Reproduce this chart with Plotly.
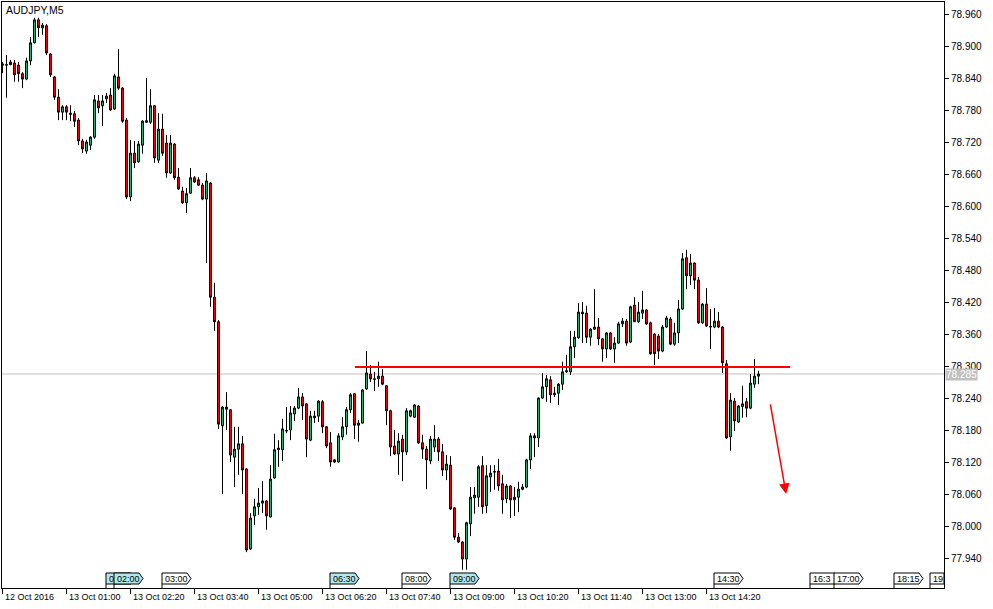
import plotly.graph_objects as go

# ---------------- data (AUDJPY, M5) ----------------
opens = [78.864, 78.864, 78.870, 78.868, 78.864, 78.848, 78.838, 78.872, 78.906, 78.949,
         78.934, 78.938, 78.885, 78.842, 78.804, 78.776, 78.786, 78.774, 78.773, 78.761,
         78.722, 78.703, 78.714, 78.729, 78.797, 78.788, 78.801, 78.808, 78.782, 78.842,
         78.821, 78.761, 78.617, 78.699, 78.683, 78.714, 78.760, 78.757, 78.788, 78.686,
         78.744, 78.718, 78.662, 78.716, 78.654, 78.628, 78.606, 78.624, 78.653, 78.649,
         78.639, 78.613, 78.643, 78.429, 78.383, 78.188, 78.223, 78.218, 78.129, 78.144,
         78.154, 78.107, 77.957, 78.019, 78.036, 78.043, 78.047, 78.017, 78.090, 78.143,
         78.143, 78.178, 78.180, 78.210, 78.221, 78.242, 78.229, 78.161, 78.203, 78.206,
         78.233, 78.186, 78.156, 78.124, 78.120, 78.167, 78.186, 78.218, 78.248, 78.189,
         78.193, 78.257, 78.285, 78.276, 78.276, 78.281, 78.263, 78.216, 78.150, 78.135,
         78.163, 78.139, 78.206, 78.204, 78.225, 78.156, 78.144, 78.122, 78.148, 78.163,
         78.139, 78.105, 78.114, 78.034, 77.979, 77.970, 77.938, 78.004, 78.053, 78.054,
         78.113, 78.038, 78.092, 78.101, 78.103, 78.079, 78.051, 78.075, 78.049, 78.054,
         78.069, 78.073, 78.124, 78.169, 78.165, 78.240, 78.261, 78.274, 78.246, 78.249,
         78.266, 78.289, 78.289, 78.336, 78.353, 78.401, 78.399, 78.354, 78.369, 78.373,
         78.351, 78.332, 78.362, 78.332, 78.343, 78.379, 78.384, 78.345, 78.414, 78.383,
         78.399, 78.405, 78.381, 78.360, 78.356, 78.328, 78.373, 78.388, 78.341, 78.362,
         78.407, 78.503, 78.469, 78.493, 78.461, 78.381, 78.416, 78.373, 78.373, 78.384,
         78.373, 78.304, 78.167, 78.234, 78.195, 78.224, 78.233, 78.221, 78.266, 78.281]
highs = [78.870, 78.883, 78.874, 78.874, 78.870, 78.851, 78.878, 78.917, 78.953, 78.953,
         78.943, 78.941, 78.887, 78.844, 78.819, 78.789, 78.789, 78.789, 78.778, 78.765,
         78.726, 78.724, 78.731, 78.808, 78.808, 78.808, 78.812, 78.821, 78.848, 78.894,
         78.823, 78.765, 78.724, 78.722, 78.722, 78.761, 78.840, 78.819, 78.789, 78.774,
         78.773, 78.733, 78.733, 78.718, 78.671, 78.636, 78.634, 78.671, 78.656, 78.654,
         78.643, 78.662, 78.645, 78.456, 78.386, 78.225, 78.251, 78.219, 78.186, 78.186,
         78.169, 78.108, 78.024, 78.051, 78.071, 78.084, 78.049, 78.114, 78.173, 78.161,
         78.201, 78.223, 78.225, 78.225, 78.259, 78.249, 78.230, 78.216, 78.216, 78.236,
         78.236, 78.187, 78.176, 78.125, 78.174, 78.204, 78.223, 78.249, 78.249, 78.199,
         78.257, 78.328, 78.302, 78.289, 78.308, 78.294, 78.264, 78.218, 78.180, 78.174,
         78.171, 78.221, 78.218, 78.229, 78.227, 78.171, 78.150, 78.169, 78.189, 78.167,
         78.154, 78.133, 78.131, 78.035, 77.987, 77.972, 78.008, 78.073, 78.073, 78.114,
         78.131, 78.114, 78.114, 78.114, 78.126, 78.096, 78.079, 78.077, 78.073, 78.083,
         78.079, 78.126, 78.174, 78.174, 78.241, 78.287, 78.283, 78.281, 78.261, 78.268,
         78.308, 78.321, 78.366, 78.366, 78.418, 78.420, 78.413, 78.371, 78.444, 78.390,
         78.352, 78.364, 78.364, 78.354, 78.383, 78.390, 78.388, 78.413, 78.429, 78.420,
         78.441, 78.407, 78.383, 78.361, 78.360, 78.377, 78.394, 78.392, 78.381, 78.424,
         78.512, 78.518, 78.510, 78.494, 78.467, 78.418, 78.446, 78.407, 78.409, 78.401,
         78.375, 78.311, 78.249, 78.240, 78.227, 78.263, 78.240, 78.285, 78.313, 78.291]
lows = [78.849, 78.803, 78.864, 78.833, 78.833, 78.821, 78.836, 78.864, 78.905, 78.917,
        78.921, 78.883, 78.842, 78.799, 78.761, 78.761, 78.761, 78.759, 78.748, 78.714,
        78.699, 78.698, 78.705, 78.726, 78.774, 78.750, 78.793, 78.778, 78.780, 78.818,
        78.756, 78.613, 78.609, 78.671, 78.681, 78.698, 78.756, 78.754, 78.681, 78.681,
        78.694, 78.653, 78.660, 78.649, 78.630, 78.604, 78.587, 78.623, 78.643, 78.638,
        78.611, 78.493, 78.411, 78.366, 78.182, 78.060, 78.180, 78.120, 78.073, 78.096,
        78.060, 77.951, 77.955, 78.002, 78.021, 78.024, 77.993, 78.016, 78.089, 78.111,
        78.122, 78.174, 78.161, 78.197, 78.219, 78.199, 78.129, 78.159, 78.193, 78.195,
        78.174, 78.146, 78.111, 78.118, 78.119, 78.161, 78.171, 78.212, 78.163, 78.158,
        78.192, 78.255, 78.270, 78.253, 78.261, 78.264, 78.189, 78.131, 78.133, 78.096,
        78.084, 78.133, 78.204, 78.203, 78.154, 78.126, 78.069, 78.116, 78.139, 78.122,
        78.094, 78.086, 78.030, 77.974, 77.968, 77.918, 77.918, 77.981, 78.023, 78.036,
        78.023, 78.024, 78.064, 78.068, 78.066, 78.023, 78.043, 78.015, 78.019, 78.026,
        78.067, 78.071, 78.107, 78.129, 78.148, 78.238, 78.233, 78.231, 78.242, 78.227,
        78.255, 78.287, 78.283, 78.315, 78.351, 78.343, 78.343, 78.338, 78.368, 78.339,
        78.308, 78.315, 78.330, 78.306, 78.341, 78.373, 78.338, 78.343, 78.383, 78.381,
        78.388, 78.377, 78.321, 78.302, 78.313, 78.326, 78.371, 78.339, 78.338, 78.343,
        78.405, 78.444, 78.452, 78.444, 78.379, 78.379, 78.373, 78.332, 78.371, 78.371,
        78.287, 78.163, 78.141, 78.178, 78.193, 78.203, 78.204, 78.219, 78.259, 78.266]
closes = [78.866, 78.865, 78.865, 78.846, 78.848, 78.838, 78.872, 78.906, 78.949, 78.934,
          78.939, 78.887, 78.846, 78.804, 78.776, 78.786, 78.776, 78.772, 78.759, 78.722,
          78.707, 78.720, 78.729, 78.799, 78.784, 78.797, 78.806, 78.780, 78.844, 78.821,
          78.759, 78.617, 78.699, 78.681, 78.716, 78.759, 78.757, 78.788, 78.690, 78.744,
          78.699, 78.662, 78.718, 78.653, 78.632, 78.606, 78.623, 78.653, 78.645, 78.639,
          78.613, 78.647, 78.429, 78.383, 78.191, 78.223, 78.219, 78.133, 78.144, 78.154,
          78.105, 77.955, 78.015, 78.036, 78.043, 78.047, 78.019, 78.088, 78.143, 78.146,
          78.182, 78.179, 78.212, 78.221, 78.242, 78.225, 78.163, 78.206, 78.206, 78.234,
          78.186, 78.150, 78.120, 78.120, 78.169, 78.186, 78.218, 78.246, 78.189, 78.193,
          78.255, 78.287, 78.276, 78.275, 78.281, 78.266, 78.216, 78.148, 78.135, 78.159,
          78.139, 78.216, 78.216, 78.227, 78.156, 78.144, 78.124, 78.163, 78.163, 78.139,
          78.105, 78.116, 78.032, 77.979, 77.970, 77.938, 78.006, 78.054, 78.058, 78.111,
          78.036, 78.094, 78.099, 78.102, 78.075, 78.049, 78.075, 78.049, 78.054, 78.069,
          78.073, 78.124, 78.169, 78.165, 78.240, 78.261, 78.276, 78.246, 78.249, 78.266,
          78.289, 78.291, 78.336, 78.354, 78.401, 78.398, 78.354, 78.369, 78.373, 78.351,
          78.332, 78.362, 78.332, 78.343, 78.379, 78.384, 78.343, 78.411, 78.383, 78.401,
          78.405, 78.379, 78.323, 78.323, 78.328, 78.373, 78.390, 78.341, 78.362, 78.407,
          78.501, 78.469, 78.493, 78.461, 78.381, 78.416, 78.375, 78.374, 78.384, 78.373,
          78.306, 78.165, 78.236, 78.197, 78.225, 78.229, 78.221, 78.268, 78.281, 78.285]

time_tick_bars = [0, 16, 32, 48, 64, 80, 96, 112, 128, 144, 160, 176]
time_tick_labels = ["12 Oct 2016", "13 Oct 01:00", "13 Oct 02:20", "13 Oct 03:40",
                    "13 Oct 05:00", "13 Oct 06:20", "13 Oct 07:40", "13 Oct 09:00",
                    "13 Oct 10:20", "13 Oct 11:40", "13 Oct 13:00", "13 Oct 14:20"]

price_ticks = [77.94, 78.00, 78.06, 78.12, 78.18, 78.24, 78.30, 78.36, 78.42,
               78.48, 78.54, 78.60, 78.66, 78.72, 78.78, 78.84, 78.90, 78.96]

event_bars = [26, 28, 40, 82, 100, 112, 178, 202, 208, 223, 232]
event_labels = ["0", "02:00", "03:00", "06:30", "08:00", "09:00", "14:30", "16:3", "17:00", "18:15", "19:"]
event_high = [True, True, False, True, False, True, False, False, False, False, False]

current_price = 78.285
level_price = 78.298
level_bars = [88.1, 196.9]
arrow_from = [191.9, 78.231]
arrow_to = [195.9, 78.060]

# ---------------- figure ----------------
FONT = "Liberation Sans"
GREEN = "#36b368"
RED = "#ff0000"
CYAN = "#b0e8ee"
bars = list(range(len(opens)))
X0, X1 = -0.125, 235.375
Y0, Y1 = 77.88375, 78.9825

fig = go.Figure()
fig.add_trace(go.Candlestick(
    x=bars, open=opens, high=highs, low=lows, close=closes,
    increasing=dict(line=dict(color="black", width=1), fillcolor=GREEN),
    decreasing=dict(line=dict(color="black", width=1), fillcolor=RED),
    whiskerwidth=0, hoverinfo="skip", showlegend=False))

shapes = []
# current price line
shapes.append(dict(type="line", xref="paper", x0=0, x1=1, yref="y",
                   y0=current_price, y1=current_price,
                   line=dict(color="#c0c0c0", width=1), layer="below"))
# red horizontal level
shapes.append(dict(type="line", xref="x", x0=level_bars[0], x1=level_bars[1], yref="y",
                   y0=level_price, y1=level_price, line=dict(color=RED, width=2)))

annotations = []
# event boxes at the bottom
yb, yt = 4 / 586, 15 / 586
ym = (yb + yt) / 2
for b, lab, hi in zip(event_bars, event_labels, event_high):
    x0 = b - 0.125
    x1 = x0 + 6.25
    xt = x0 + 7.25
    if xt <= X1:
        path = (f"M {x0},0 L {x0},{yb} L {x0},{yt} L {x1},{yt} L {xt},{ym} "
                f"L {x1},{yb} L {x0},{yb}")
    else:
        xe = X1
        path = f"M {x0},0 L {x0},{yb} L {x0},{yt} L {xe},{yt} L {xe},{yb} L {x0},{yb}"
    shapes.append(dict(type="path", xref="x", yref="paper", path=path,
                       fillcolor=CYAN if hi else "white",
                       line=dict(color="black", width=1)))
    annotations.append(dict(x=x0, xref="x", xanchor="left", xshift=1,
                            y=ym, yref="paper", yanchor="middle",
                            text=lab, showarrow=False,
                            font=dict(family=FONT, size=9, color="black")))

# bottom time labels (left aligned after tick)
for b, lab in zip(time_tick_bars, time_tick_labels):
    annotations.append(dict(x=b, xref="x", xanchor="left", xshift=0,
                            y=0, yref="paper", yanchor="top", yshift=-2,
                            text=lab, showarrow=False,
                            font=dict(family=FONT, size=9, color="black")))

# title
annotations.append(dict(x=0, xref="paper", xanchor="left", xshift=2,
                        y=1, yref="paper", yanchor="top", yshift=0,
                        text="AUDJPY,M5", showarrow=False,
                        font=dict(family=FONT, size=10.5, color="black")))

# current price tag
annotations.append(dict(x=1, xref="paper", xanchor="left", xshift=1,
                        y=current_price, yref="y", yanchor="middle",
                        text=f"{current_price:.3f}", showarrow=False,
                        bgcolor="#c0c0c0", borderpad=0,
                        font=dict(family=FONT, size=10, color="white")))

# red arrow
annotations.append(dict(x=arrow_to[0], y=arrow_to[1], xref="x", yref="y",
                        ax=arrow_from[0], ay=arrow_from[1], axref="x", ayref="y",
                        text="", showarrow=True, arrowhead=2, arrowsize=1.4,
                        arrowwidth=1.5, arrowcolor=RED))

fig.update_layout(
    width=993, height=609,
    margin=dict(l=2, r=49, t=2, b=21, pad=0),
    paper_bgcolor="white", plot_bgcolor="white",
    boxgap=0.3,
    shapes=shapes, annotations=annotations,
    showlegend=False,
    xaxis=dict(range=[X0, X1], tickmode="array", tickvals=time_tick_bars,
               showticklabels=False, ticks="outside", ticklen=5, tickcolor="black",
               showline=True, linecolor="black", linewidth=1, mirror=True,
               showgrid=False, zeroline=False, rangeslider=dict(visible=False),
               automargin=False, fixedrange=True),
    yaxis=dict(range=[Y0, Y1], side="right", tickmode="array", tickvals=price_ticks,
               ticktext=[f"{v:.3f}" for v in price_ticks],
               ticks="outside", ticklen=4, tickcolor="black",
               tickfont=dict(family=FONT, size=10, color="black"),
               showline=True, linecolor="black", linewidth=1, mirror=True,
               showgrid=False, zeroline=False, automargin=False, fixedrange=True),
)

fig.write_html("out.html", config={"displayModeBar": False},
               post_script="document.body.style.margin='0';document.body.style.overflow='hidden';")
